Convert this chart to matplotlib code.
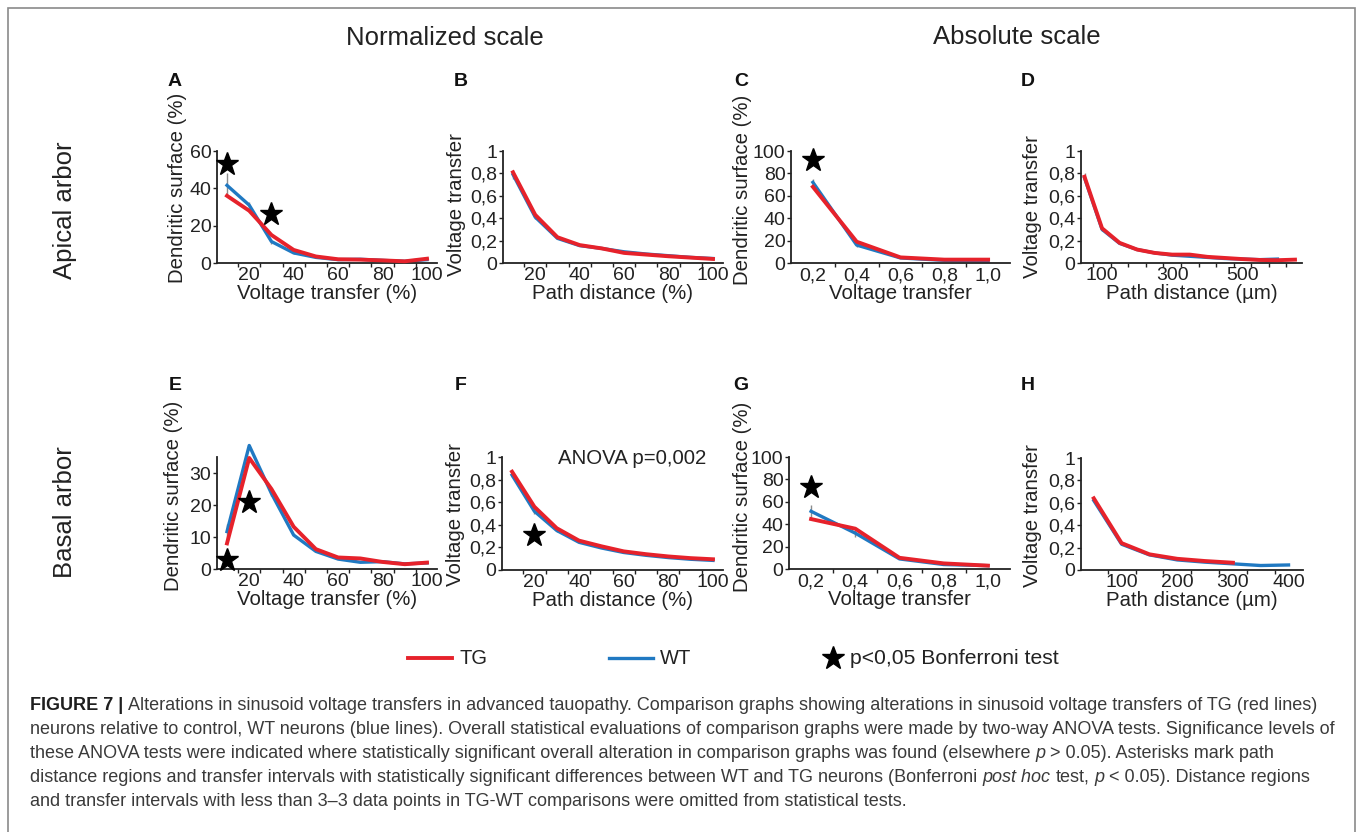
import matplotlib
matplotlib.use('Agg')
import matplotlib.pyplot as plt
from matplotlib.patches import Rectangle
from matplotlib.lines import Line2D

plt.rcParams['font.family'] = ['Liberation Sans', 'DejaVu Sans']

W, H = 1360, 832
RED = '#e6222b'
BLUE = '#2079c2'
GREY = '#8c8c8c'

# ---- data ----
pct_x = [10, 20, 30, 40, 50, 60, 70, 80, 90, 100]
abs_vt_x = [0.2, 0.4, 0.6, 0.8, 1.0]

# A: apical, dendritic surface vs voltage transfer (%)
A_wt = [41.6, 31, 11.5, 5.4, 3.0, 1.8, 2.0, 1.4, 0.9, 1.8]
A_tg = [36, 28, 15, 7, 3.5, 2.0, 1.8, 1.4, 0.9, 2.3]
A_err = [6.5, 1.5, 1.5, 0.5, 0, 0, 0, 0, 0, 0]
A_stars = ([10, 30], [53, 26])

# B: apical, voltage transfer vs path distance (%)
B_wt = [0.79, 0.41, 0.22, 0.155, 0.13, 0.10, 0.08, 0.065, 0.05, 0.04]
B_tg = [0.81, 0.43, 0.23, 0.16, 0.13, 0.09, 0.075, 0.06, 0.048, 0.036]
B_err = [0.04, 0.015, 0.01, 0, 0, 0, 0, 0, 0, 0]

# C: apical, dendritic surface vs voltage transfer (absolute)
C_wt = [72, 16, 4.5, 2.4, 1.8]
C_tg = [68, 19, 5, 3, 3]
C_err = [3, 1.5, 0, 0, 0]
C_stars = ([0.2], [92])

# D: apical, voltage transfer vs path distance (um)
D_wt_x = [50, 100, 150, 200, 250, 300, 350, 400, 450, 500, 550, 600]
D_wt = [0.76, 0.30, 0.175, 0.12, 0.09, 0.07, 0.06, 0.05, 0.04, 0.035, 0.03, 0.035]
D_tg_x = [50, 100, 150, 200, 250, 300, 350, 400, 450, 500, 550, 600, 650]
D_tg = [0.77, 0.31, 0.18, 0.12, 0.09, 0.075, 0.075, 0.055, 0.045, 0.035, 0.027, 0.025, 0.03]
D_err = [0.04, 0.01, 0, 0, 0, 0, 0, 0, 0, 0, 0, 0]

# E: basal, dendritic surface vs voltage transfer (%)
E_wt = [11.7, 38.6, 23.6, 10.6, 5.5, 3.1, 2.1, 2.3, 1.6, 1.9]
E_tg = [8, 34.7, 25, 13.2, 6.2, 3.6, 3.3, 2.2, 1.5, 2.0]
E_err = [2.5, 1.5, 0.8, 0.4, 0, 0, 0, 0, 0, 0]
E_stars = ([10, 20], [2.7, 20.8])

# F: basal, voltage transfer vs path distance (%)
F_wt = [0.84, 0.52, 0.35, 0.245, 0.195, 0.155, 0.13, 0.11, 0.095, 0.085]
F_tg = [0.87, 0.56, 0.37, 0.26, 0.21, 0.165, 0.14, 0.12, 0.105, 0.095]
F_err = [0.02, 0.02, 0.01, 0, 0, 0, 0, 0, 0, 0]
F_stars = ([20], [0.31])

# G: basal, dendritic surface vs voltage transfer (absolute)
G_wt = [51.5, 32, 9, 4, 3]
G_tg = [44.6, 36, 10, 5, 3]
G_err = [6, 3, 0, 0, 0]
G_stars = ([0.2], [73])

# H: basal, voltage transfer vs path distance (um)
H_wt_x = [50, 100, 150, 200, 250, 300, 350, 400]
H_wt = [0.62, 0.23, 0.135, 0.09, 0.07, 0.055, 0.04, 0.045]
H_tg_x = [50, 100, 150, 200, 250, 300]
H_tg = [0.64, 0.24, 0.14, 0.10, 0.08, 0.065]
H_err = [0.01, 0, 0, 0, 0, 0, 0, 0]

vt_ticks = [0, 0.2, 0.4, 0.6, 0.8, 1]
vt_labels = ['0', '0,2', '0,4', '0,6', '0,8', '1']
abs_labels = ['0,2', '0,4', '0,6', '0,8', '1,0']

TICK_FS = 14
LABEL_FS = 14.7


def px_box(l, r, t, b):
    return [l / W, 1 - b / H, (r - l) / W, (b - t) / H]


def style_axes(ax, xlim, ylim, xticks, xlabels, xminor, yticks, ylabels,
               xlabel, ylabel, lab_x, lab_y):
    for s in ['top', 'right']:
        ax.spines[s].set_visible(False)
    for s in ['left', 'bottom']:
        ax.spines[s].set_linewidth(1.3)
        ax.spines[s].set_color('#222222')
    ax.set_xlim(*xlim)
    ax.set_ylim(*ylim)
    ax.set_xticks(xticks)
    ax.set_xticklabels(xlabels, fontsize=TICK_FS)
    ax.set_xticks(xminor, minor=True)
    ax.set_yticks(yticks)
    ax.set_yticklabels(ylabels, fontsize=TICK_FS)
    ax.tick_params(axis='x', which='major', length=0, pad=3, colors='#222222')
    ax.tick_params(axis='x', which='minor', length=3, width=1, colors='#222222')
    ax.tick_params(axis='y', length=3, width=1, pad=1, colors='#222222')
    ax.set_xlabel(xlabel, fontsize=LABEL_FS, labelpad=0, color='#222222')
    ax.set_ylabel(ylabel, fontsize=LABEL_FS, color='#222222')
    ax.yaxis.set_label_coords(lab_x, lab_y)
    ax.patch.set_alpha(0)


def draw_lines(ax, xw, yw, xt, yt, err, stars=None):
    ax.vlines([x for x, e in zip(xw, err) if e > 0],
              [y - e for y, e in zip(yw, err) if e > 0],
              [y + e for y, e in zip(yw, err) if e > 0],
              color=GREY, lw=1, zorder=1)
    ax.plot(xw, yw, color=BLUE, lw=2.4, zorder=2, clip_on=False)
    ax.plot(xt, yt, color=RED, lw=2.8, zorder=3, clip_on=False)
    if stars:
        ax.plot(stars[0], stars[1], ls='none', marker='*', ms=17,
                color='black', zorder=4, clip_on=False)


fig = plt.figure(figsize=(W / 100, H / 100), dpi=100)

pct_minor = [15, 25, 35, 45, 55, 65, 75, 85, 95]
pct_major = [20, 40, 60, 80, 100]
pct_labels = ['20', '40', '60', '80', '100']

# top row
axA = fig.add_axes(px_box(217, 437, 151, 263))
draw_lines(axA, pct_x, A_wt, pct_x, A_tg, A_err, A_stars)
style_axes(axA, (5.5, 104.5), (0, 60), pct_major, pct_labels, pct_minor,
           [0, 20, 40, 60], ['0', '20', '40', '60'],
           'Voltage transfer (%)', 'Dendritic surface (%)', -0.136, 0.67)

axB = fig.add_axes(px_box(503, 723, 151, 263))
draw_lines(axB, pct_x, B_wt, pct_x, B_tg, B_err)
style_axes(axB, (5.5, 104.5), (0, 1), pct_major, pct_labels, pct_minor,
           vt_ticks, vt_labels, 'Path distance (%)', 'Voltage transfer', -0.168, 0.52)

axC = fig.add_axes(px_box(791, 1010, 151, 263))
draw_lines(axC, abs_vt_x, C_wt, abs_vt_x, C_tg, C_err, C_stars)
style_axes(axC, (0.1, 1.1), (0, 100), abs_vt_x, abs_labels, [0.3, 0.5, 0.7, 0.9],
           [0, 20, 40, 60, 80, 100], ['0', '20', '40', '60', '80', '100'],
           'Voltage transfer', 'Dendritic surface (%)', -0.176, 0.65)

axD = fig.add_axes(px_box(1081, 1302, 151, 263))
draw_lines(axD, D_wt_x, D_wt, D_tg_x, D_tg, D_err)
style_axes(axD, (40, 670), (0, 1), [100, 300, 500], ['100', '300', '500'],
           [75, 125, 175, 225, 275, 325, 375, 425, 475, 525, 575, 625],
           vt_ticks, vt_labels, 'Path distance (\u00b5m)', 'Voltage transfer', -0.176, 0.5)

# bottom row
axE = fig.add_axes(px_box(217, 437, 457, 569))
draw_lines(axE, pct_x, E_wt, pct_x, E_tg, E_err, E_stars)
style_axes(axE, (5.5, 104.5), (0, 35), pct_major, pct_labels, pct_minor,
           [0, 10, 20, 30], ['0', '10', '20', '30'],
           'Voltage transfer (%)', 'Dendritic surface (%)', -0.155, 0.65)

axF = fig.add_axes(px_box(502, 723, 457, 570))
draw_lines(axF, pct_x, F_wt, pct_x, F_tg, F_err, F_stars)
style_axes(axF, (5.5, 104.5), (0, 1), pct_major, pct_labels, pct_minor,
           vt_ticks, vt_labels, 'Path distance (%)', 'Voltage transfer', -0.167, 0.49)
axF.text(64, 0.985, 'ANOVA p=0,002', ha='center', va='center',
         fontsize=LABEL_FS, color='#222222')

axG = fig.add_axes(px_box(789, 1010, 457, 569))
draw_lines(axG, abs_vt_x, G_wt, abs_vt_x, G_tg, G_err, G_stars)
style_axes(axG, (0.1, 1.1), (0, 100), abs_vt_x, abs_labels, [0.3, 0.5, 0.7, 0.9],
           [0, 20, 40, 60, 80, 100], ['0', '20', '40', '60', '80', '100'],
           'Voltage transfer', 'Dendritic surface (%)', -0.168, 0.64)

axH = fig.add_axes(px_box(1081, 1303, 458, 570))
draw_lines(axH, H_wt_x, H_wt, H_tg_x, H_tg, H_err)
style_axes(axH, (27, 426), (0, 1), [100, 200, 300, 400], ['100', '200', '300', '400'],
           [75, 125, 175, 225, 275, 325, 375],
           vt_ticks, vt_labels, 'Path distance (\u00b5m)', 'Voltage transfer', -0.176, 0.49)


def ftext(x, y, s, **kw):
    return fig.text(x / W, 1 - y / H, s, **kw)


# panel letters
for letter, (lx, ly) in zip('ABCDEFGH', [(175, 81), (461, 81), (741, 81), (1028, 81),
                                        (175, 385), (461, 385), (741, 385), (1028, 385)]):
    ftext(lx, ly, letter, fontsize=14, fontweight='bold', ha='center', va='center',
          color='#111111')

# column / row headings
ftext(445, 38, 'Normalized scale', fontsize=18.5, ha='center', va='center', color='#222222')
ftext(1017, 37, 'Absolute scale', fontsize=18.5, ha='center', va='center', color='#222222')
ftext(65, 210, 'Apical arbor', fontsize=18.5, rotation=90, ha='center', va='center',
      color='#222222')
ftext(65, 512, 'Basal arbor', fontsize=18.5, rotation=90, ha='center', va='center',
      color='#222222')

# legend
ly = 658
fig.add_artist(Line2D([408 / W, 452 / W], [1 - ly / H] * 2, color=RED, lw=2.8))
ftext(459, ly + 1, 'TG', fontsize=14.5, va='center', color='#222222')
fig.add_artist(Line2D([609 / W, 653 / W], [1 - ly / H] * 2, color=BLUE, lw=2.4))
ftext(660, ly + 1, 'WT', fontsize=14.5, va='center', color='#222222')
fig.add_artist(Line2D([833 / W], [1 - ly / H], ls='none', marker='*', ms=17, color='black'))
ftext(850, ly, 'p<0,05 Bonferroni test', fontsize=15.2, va='center', color='#222222')

# outer frame (bottom edge falls outside the canvas)
fig.add_artist(Rectangle((8 / W, -0.1), (1355 - 8) / W, 1.1 - 8 / H,
                         transform=fig.transFigure, fill=False,
                         edgecolor='#8a8a8a', lw=1.2))

# caption with mixed styles
CAP_FS = 12.95
renderer = fig.canvas.get_renderer()


def text_width(s, **kw):
    t = fig.text(0, 0, s, fontsize=CAP_FS, **kw)
    w = t.get_window_extent(renderer=renderer).width
    t.remove()
    return w


space_w = text_width('a a') - text_width('aa')


def rich_line(x, y, parts):
    for s, style in parts:
        kw = {'color': '#3a3a3a'}
        if style == 'b':
            kw = {'fontweight': 'bold', 'color': '#1e1e1e'}
        elif style == 'i':
            kw['fontstyle'] = 'italic'
        if s.startswith(' '):
            x += space_w
        core = s.strip()
        t = ftext(x, y, core, fontsize=CAP_FS, ha='left', va='center', **kw)
        x += t.get_window_extent(renderer=renderer).width
        if s.endswith(' '):
            x += space_w


cap_lines = [
    [('FIGURE 7 |', 'b'),
     (' Alterations in sinusoid voltage transfers in advanced tauopathy. Comparison graphs '
      'showing alterations in sinusoid voltage transfers of TG (red lines)', 'n')],
    [('neurons relative to control, WT neurons (blue lines). Overall statistical evaluations '
      'of comparison graphs were made by two-way ANOVA tests. Significance levels of', 'n')],
    [('these ANOVA tests were indicated where statistically significant overall alteration in '
      'comparison graphs was found (elsewhere ', 'n'), ('p', 'i'),
     (' > 0.05). Asterisks mark path', 'n')],
    [('distance regions and transfer intervals with statistically significant differences '
      'between WT and TG neurons (Bonferroni ', 'n'), ('post hoc', 'i'), (' test, ', 'n'),
     ('p', 'i'), (' < 0.05). Distance regions', 'n')],
    [('and transfer intervals with less than 3\u20133 data points in TG-WT comparisons were '
      'omitted from statistical tests.', 'n')],
]
for i, parts in enumerate(cap_lines):
    rich_line(30, 705 + 24 * i, parts)

fig.savefig('out.png', dpi=100)
